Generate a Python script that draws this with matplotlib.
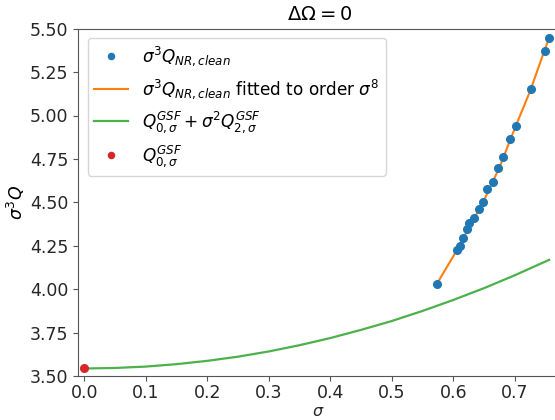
import matplotlib
matplotlib.use("Agg")
import matplotlib.pyplot as plt

# NR data points (sigma, sigma^3 Q_NR,clean)
sigma_nr = [0.5733, 0.6068, 0.6112, 0.6166, 0.6220, 0.6264, 0.6345, 0.6416, 0.6486,
            0.6556, 0.6644, 0.6725, 0.6811, 0.6920, 0.7018, 0.7262, 0.7490, 0.7560]
q_nr = [4.031, 4.224, 4.251, 4.295, 4.350, 4.381, 4.411, 4.463, 4.503,
        4.577, 4.620, 4.696, 4.763, 4.862, 4.941, 5.150, 5.372, 5.445]

# Fit to order sigma^8
sigma_fit = [0.5733, 0.600, 0.625, 0.650, 0.675, 0.700, 0.725, 0.750, 0.7560]
q_fit = [4.031, 4.190, 4.350, 4.512, 4.700, 4.925, 5.140, 5.390, 5.445]

# GSF expansion Q0 + sigma^2 Q2
sigma_gsf = [0.00, 0.05, 0.10, 0.15, 0.20, 0.25, 0.30, 0.35, 0.40, 0.45,
             0.50, 0.55, 0.60, 0.65, 0.70, 0.756]
q_gsf = [3.545, 3.548, 3.556, 3.570, 3.589, 3.613, 3.643, 3.679, 3.720, 3.767,
         3.818, 3.876, 3.939, 4.007, 4.081, 4.170]

# Q0 point
sigma_q0 = [0.0]
q_q0 = [3.545]

xticks = [0.0, 0.1, 0.2, 0.3, 0.4, 0.5, 0.6, 0.7]
yticks = [3.50, 3.75, 4.00, 4.25, 4.50, 4.75, 5.00, 5.25, 5.50]

fs = 12.5
fig = plt.figure(figsize=(5.55, 4.20), dpi=100)
ax = fig.add_axes([0.1411, 0.1040, 0.8694, 0.8280])

ax.plot(sigma_nr, q_nr, 'o', color='#1f77b4', markersize=5.5,
        label=r'$\sigma^3 Q_{NR,clean}$', zorder=3)
ax.plot(sigma_fit, q_fit, '-', color='#ff7f0e', linewidth=1.5,
        label=r'$\sigma^3 Q_{NR,clean}$ fitted to order $\sigma^8$', zorder=2)
ax.plot(sigma_gsf, q_gsf, '-', color='#4cb04c', linewidth=1.6,
        label=r'$Q^{GSF}_{0,\sigma} + \sigma^2 Q^{GSF}_{2,\sigma}$', zorder=2)
ax.plot(sigma_q0, q_q0, 'o', color='#d62728', markersize=5.5,
        label=r'$Q^{GSF}_{0,\sigma}$', zorder=3)

ax.set_xlim(-0.0098, 0.775)
ax.set_ylim(3.5, 5.5)
ax.set_xticks(xticks)
ax.set_yticks(yticks)
ax.set_xticklabels([f"{v:.1f}" for v in xticks])
ax.set_yticklabels([f"{v:.2f}" for v in yticks])
ax.tick_params(labelsize=fs, colors='#555555', labelcolor='#262626')
ax.tick_params(axis='x', pad=2)
for s in ax.spines.values():
    s.set_color('#555555')

# x-axis label placed just above the bottom edge of the figure
fig.text(0.5740, 1.0 / 420, r'$\sigma$', fontsize=11.5, ha='center', va='bottom',
         color='#262626')
ax.set_ylabel(r'$\sigma^3 Q$', fontsize=fs, labelpad=2)
ax.set_title(r'$\Delta\Omega = 0$', fontsize=14, pad=6)

ax.legend(loc='upper left', fontsize=12.2, borderaxespad=0.55,
          markerscale=0.8)

fig.savefig('out.png', dpi=100)
